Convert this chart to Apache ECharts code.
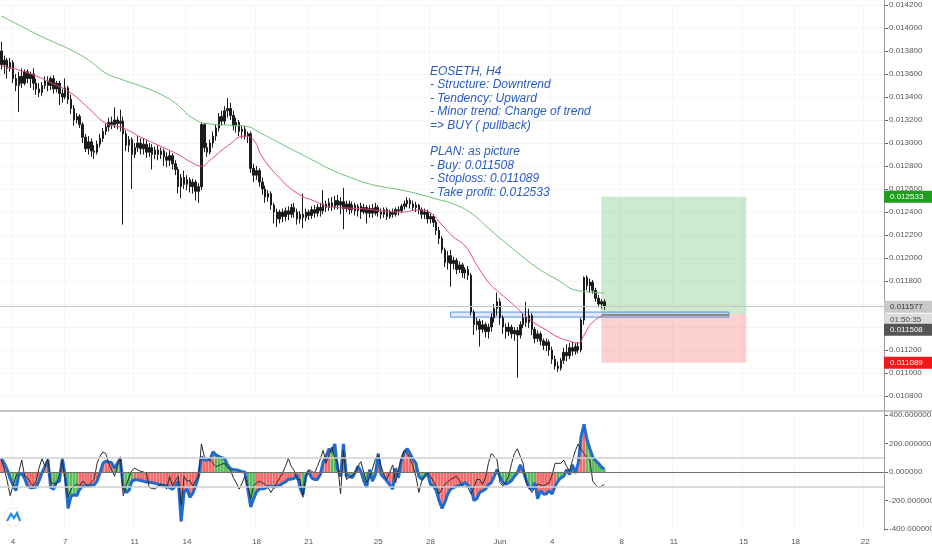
<!DOCTYPE html>
<html>
<head>
<meta charset="utf-8">
<script src="https://cdn.jsdelivr.net/npm/echarts@6/dist/echarts.min.js"></script>
<style>
html, body {margin: 0; padding: 0; background: #fff;}
#main {width: 932px; height: 550px;}
</style>
</head>
<body>
<div id="main"></div>
<script>
// prices are in units of 1e-6 (13800 = 0.013800)
const slots = 305
const tickIdx = [4, 22, 46, 64, 88, 106, 130, 148, 172, 190, 214, 232, 256, 274, 298]
const tickText = ['4', '7', '11', '14', '18', '21', '25', '28', 'Jun', '4', '8', '11', '15', '18', '22']

// [open, close, low, high]
const candles = [
    [13800,13680,13640,13880],[13680,13720,13600,13760],[13720,13650,13560,13740],[13650,13700,13620,13740],
    [13700,13560,13520,13720],[13560,13500,13450,13600],[13500,13580,13270,13620],[13580,13520,13480,13650],
    [13520,13620,13500,13640],[13620,13560,13520,13640],[13560,13600,13480,13620],[13600,13520,13460,13650],
    [13520,13470,13420,13560],[13470,13440,13400,13520],[13440,13500,13410,13530],[13500,13540,13470,13580],
    [13540,13500,13450,13580],[13500,13560,13460,13580],[13560,13470,13430,13590],[13470,13520,13440,13540],
    [13520,13430,13330,13540],[13430,13400,13350,13470],[13400,13480,13380,13560],[13480,13380,13340,13500],
    [13380,13300,13250,13420],[13300,13200,13150,13330],[13200,13230,13170,13260],[13230,13160,13130,13250],
    [13160,13050,13000,13180],[13050,12950,12920,13080],[12950,13010,12900,13060],[13010,12930,12880,13040],
    [12930,12920,12860,12980],[12920,12990,12900,13020],[12990,13040,12960,13080],[13040,13100,13010,13130],
    [13100,13140,13070,13170],[13140,13180,13100,13220],[13180,13160,13120,13230],[13160,13200,13130,13310],
    [13200,13170,13120,13230],[13170,13190,13100,13290],[13190,13080,12290,13230],[13080,12980,12930,13110],
    [12980,13030,12920,13060],[13030,12900,12600,13050],[12900,12960,12870,13000],[12960,13000,12920,13060],
    [13000,12950,12900,13040],[12950,12990,12900,13040],[12990,12920,12870,13030],[12920,12960,12880,13000],
    [12960,12900,12770,12990],[12900,12940,12860,12970],[12940,12900,12850,12980],[12900,12930,12860,12960],
    [12930,12880,12800,12950],[12880,12850,12790,12920],[12850,12890,12800,12930],[12890,12820,12770,12910],
    [12820,12770,12720,12850],[12770,12620,12560,12790],[12620,12700,12520,12730],[12700,12640,12600,12760],
    [12640,12680,12590,12720],[12680,12620,12570,12700],[12620,12660,12560,12690],[12660,12580,12500,12680],
    [12580,12620,12480,12650],[12620,13160,12590,13180],[13160,12960,12920,13170],[12960,12920,12880,13000],
    [12920,13000,12900,13030],[13000,13060,12960,13100],[13060,13130,13020,13160],[13130,13230,13100,13260],
    [13230,13190,13150,13280],[13190,13280,13160,13320],[13280,13300,13220,13390],[13300,13240,13200,13350],
    [13240,13150,13110,13280],[13150,13180,13090,13220],[13180,13100,13060,13200],[13100,13120,13040,13150],
    [13120,13060,13030,13150],[13060,13080,13000,13100],[13080,12780,12740,13100],[12780,12720,12660,12820],
    [12720,12760,12680,12800],[12760,12660,12620,12780],[12660,12600,12550,12700],[12600,12530,12480,12630],
    [12530,12560,12490,12590],[12560,12460,12420,12580],[12460,12400,12300,12480],[12400,12340,12270,12430],
    [12340,12400,12300,12420],[12400,12360,12310,12430],[12360,12410,12320,12440],[12410,12380,12330,12450],
    [12380,12440,12350,12470],[12440,12400,12350,12480],[12400,12340,12290,12430],[12340,12380,12300,12410],
    [12380,12350,12260,12560],[12350,12400,12320,12430],[12400,12370,12330,12420],[12370,12420,12340,12450],
    [12420,12390,12350,12460],[12390,12440,12360,12470],[12440,12410,12360,12480],[12410,12470,12380,12590],
    [12470,12440,12400,12500],[12440,12480,12410,12520],[12480,12450,12410,12530],[12450,12500,12420,12540],
    [12500,12460,12420,12550],[12460,12490,12380,12530],[12490,12430,12250,12610],[12430,12470,12400,12500],
    [12470,12420,12380,12500],[12420,12460,12390,12490],[12460,12410,12370,12480],[12410,12450,12360,12470],
    [12450,12400,12340,12480],[12400,12440,12380,12470],[12440,12390,12300,12460],[12390,12430,12350,12460],
    [12430,12390,12350,12470],[12390,12440,12370,12480],[12440,12400,12360,12460],[12400,12380,12340,12430],
    [12380,12420,12350,12440],[12420,12360,12330,12440],[12360,12400,12340,12420],[12400,12380,12350,12430],
    [12380,12420,12360,12440],[12420,12410,12370,12450],[12410,12450,12390,12470],[12450,12470,12420,12500],
    [12470,12500,12440,12530],[12500,12470,12430,12520],[12470,12440,12410,12500],[12440,12460,12400,12490],
    [12460,12420,12380,12470],[12420,12380,12340,12440],[12380,12400,12340,12430],[12400,12340,12300,12420],
    [12340,12360,12300,12390],[12360,12310,12270,12380],[12310,12240,12200,12330],[12240,12170,12120,12270],
    [12170,12070,12040,12190],[12070,11960,11920,12090],[11960,12020,11900,12060],[12020,11950,11750,12070],
    [11950,11980,11900,12010],[11980,11900,11860,12000],[11900,11940,11870,11970],[11940,11870,11830,11960],
    [11870,11900,11820,11920],[11900,11850,11810,11930],[11850,11530,11500,11870],[11530,11420,11330,11550],
    [11420,11450,11370,11480],[11450,11380,11230,11470],[11380,11420,11350,11460],[11420,11360,11310,11440],
    [11360,11400,11300,11430],[11400,11480,11360,11520],[11480,11560,11440,11600],[11560,11620,11500,11700],
    [11620,11480,11420,11650],[11480,11400,11340,11500],[11400,11360,11300,11430],[11360,11400,11320,11440],
    [11400,11340,11300,11420],[11340,11370,11280,11400],[11370,11330,10960,11400],[11330,11420,11300,11450],
    [11420,11480,11390,11520],[11480,11440,11400,11620],[11440,11500,11390,11560],[11500,11380,11330,11520],
    [11380,11300,11260,11400],[11300,11340,11270,11370],[11340,11280,11240,11360],[11280,11240,11200,11300],
    [11240,11270,11190,11300],[11270,11200,11150,11290],[11200,11120,11080,11230],[11120,11060,11030,11150],
    [11060,11040,11010,11100],[11040,11110,11020,11130],[11110,11180,11080,11220],[11180,11150,11100,11250],
    [11150,11220,11120,11260],[11220,11190,11150,11270],[11190,11230,11160,11260],[11230,11200,11170,11270],
    [11200,11460,11180,11480],[11460,11830,11420,11840],[11830,11760,11720,11850],[11760,11790,11700,11820],
    [11790,11720,11690,11810],[11720,11650,11620,11740],[11650,11600,11570,11680],[11600,11620,11560,11640],
    [11620,11577,11550,11640]
]

// moving averages: [candle index, price]
const slowMA = [
    [0,14104],[6,14026],[12,13948],[18,13878],[24,13809],[30,13722],[36,13608],[42,13548],[48,13495],
    [54,13434],[60,13347],[66,13217],[72,13165],[78,13156],[84,13147],[90,13078],[96,12999],[102,12921],
    [108,12843],[114,12765],[120,12704],[126,12651],[132,12617],[138,12591],[144,12556],[150,12513],
    [156,12469],[162,12391],[168,12260],[174,12130],[180,12008],[186,11895],[192,11808],[198,11721],
    [204,11703],[208,11694]
]
const fastMA = [
    [0,13669],[6,13635],[12,13582],[18,13513],[24,13434],[30,13304],[36,13173],[42,13130],[48,13052],
    [54,12982],[60,12913],[66,12825],[69,12799],[72,12852],[78,12974],[84,13060],[87,13026],[90,12878],
    [96,12695],[102,12564],[108,12495],[114,12443],[120,12434],[126,12425],[132,12408],[138,12399],
    [144,12417],[148,12391],[152,12287],[156,12182],[160,12104],[164,11939],[168,11790],[172,11694],
    [176,11608],[180,11513],[184,11434],[188,11373],[192,11312],[196,11277],[199,11260],[201,11330],
    [204,11443],[208,11503]
]

// oscillator panel
const oscBlue = [
    95,60,16,-45,-90,-130,-20,-10,-45,-100,
    -110,-109,-105,-60,-5,38,84,-110,-120,-70,
    -65,95,-30,-256,-170,-160,-165,-120,-100,-98,
    -98,-95,-90,-64,-7,61,75,70,65,27,
    61,95,-110,-143,-130,-64,-55,-55,-60,-65,
    -70,-72,-75,-80,-85,-90,-98,-95,-110,-120,
    -100,-64,-347,-143,-120,-177,-150,-98,-30,107,
    84,84,90,141,120,110,100,95,50,25,
    16,16,10,2,0,-120,-245,-188,-140,-120,
    -118,-115,-100,-100,-105,-100,-95,-80,-70,-50,
    -50,-45,-18,-110,-160,-30,5,-41,-52,-52,
    -18,70,110,163,141,197,16,-30,197,-30,
    -25,-40,-7,40,5,-60,-109,16,-64,-18,
    129,-18,-41,-64,-90,-120,27,-41,84,141,
    163,129,90,61,-30,-52,-30,-7,-86,-98,
    -130,-200,-256,-211,-154,-120,-109,-100,-95,-86,
    -75,-95,-109,-200,-188,-143,-132,-120,-90,-75,
    -30,16,-30,-75,-86,-75,-60,-30,-7,50,
    5,-52,-109,-120,-75,-188,-132,-154,-154,-132,
    -154,-100,-64,-41,-30,16,-18,50,-7,60,
    250,334,230,163,107,80,61,35,20
]
const oscBlack = [
    84,20,-64,-166,-98,-30,0,84,-30,-40,
    -75,-98,-60,30,95,38,95,-75,-80,-86,
    -20,84,-60,-177,-120,-100,-86,-98,-64,-80,
    -98,-70,-52,61,110,141,129,61,16,-30,
    40,107,-166,-98,-40,10,27,15,5,0,
    -7,-109,-115,-120,-98,-90,-86,-120,-30,-98,
    -60,-30,-234,-30,-64,-60,-98,-60,-30,197,
    107,95,84,60,38,45,55,61,30,16,
    -40,-75,-120,-80,-30,-100,-188,-98,-75,-64,
    -75,-86,-110,-143,-110,-75,-40,-7,40,95,
    38,10,-52,-52,-177,-30,16,5,-7,38,
    90,152,61,120,175,100,61,-154,152,-52,
    -40,-30,-7,40,73,0,-75,-41,20,90,
    118,40,-20,-52,0,50,-75,20,100,152,
    130,95,40,-30,-143,-64,-30,-7,-30,-64,
    -100,-154,-120,-86,-70,-52,-40,-30,-60,-98,
    -100,-109,-154,-110,-52,-52,-86,-40,60,129,
    110,84,-75,-98,-70,-30,60,130,163,110,
    61,-75,-110,-143,-110,-86,-90,-98,-86,-75,
    -20,61,61,61,84,40,5,80,150,197,
    160,129,100,84,-64,-90,-109,-100,-86
]
// histogram colour runs: [first candle index, 'r' | 'g']
const histRuns = [
    [0,'r'],[2,'g'],[8,'r'],[17,'g'],[21,'r'],[22,'g'],[27,'r'],[39,'g'],[46,'r'],[74,'g'],[88,'r'],
    [104,'g'],[106,'r'],[114,'g'],[117,'r'],[119,'g'],[122,'r'],[125,'g'],[129,'r'],[136,'g'],[137,'r'],
    [143,'g'],[148,'r'],[172,'g'],[179,'r'],[181,'g'],[185,'r'],[192,'g'],[199,'r'],[202,'g']
]

const entry = 11508, stopLoss = 11089, takeProfit = 12533, lastPrice = 11577
const toolFrom = 207, toolTo = 257, bandFrom = 155, bandTo = 251

const note = [
    'EOSETH, H4',
    '- Structure: Downtrend',
    '- Tendency: Upward',
    '- Minor trend: Change of trend',
    '=> BUY ( pullback)',
    '',
    'PLAN: as picture',
    '- Buy: 0.011508',
    '- Stoploss: 0.011089',
    '- Take profit: 0.012533'
]

const categories = []
for (let i = 0; i < slots; i++) categories.push(String(i))

const runColor = i => {
    let c = 'r'
    histRuns.forEach(r => { if (r[0] <= i) c = r[1] })
    return c === 'r' ? '#f46a6a' : '#5cbc5c'
}

const fmtPrice = v => (v / 1e6).toFixed(6)
const labelFont = {color: '#555', fontSize: 8, fontFamily: 'Liberation Sans'}

let myChart = echarts.init(document.getElementById('main'))

let option = {
    backgroundColor: '#fff',
    animation: false,
    grid: [
        {left: 0, right: 48, top: 5, height: 391, containLabel: false, outerBoundsMode: 'none'},
        {left: 0, right: 48, top: 415, height: 114, containLabel: false, outerBoundsMode: 'none'}
    ],
    xAxis: [
        {
            type: 'category', gridIndex: 0, data: categories, boundaryGap: true,
            axisLine: {show: false}, axisTick: {show: false}, axisLabel: {show: false},
            splitLine: {show: true, interval: (i) => tickIdx.includes(i), lineStyle: {color: '#f6f6f6'}}
        },
        {
            type: 'category', gridIndex: 1, data: categories, boundaryGap: true,
            axisLine: {show: true, lineStyle: {color: '#9a9a9a'}},
            axisTick: {show: false},
            axisLabel: {
                ...labelFont, margin: 9,
                interval: (i) => tickIdx.includes(i),
                formatter: (v, i) => tickText[tickIdx.indexOf(i)]
            },
            splitLine: {show: true, interval: (i) => tickIdx.includes(i), lineStyle: {color: '#f6f6f6'}}
        }
    ],
    yAxis: [
        {
            type: 'value', gridIndex: 0, position: 'right', min: 10800, max: 14200, interval: 200,
            axisLine: {show: false},
            axisTick: {show: true, length: 4, lineStyle: {color: '#666'}},
            axisLabel: {...labelFont, margin: 5, formatter: fmtPrice},
            splitLine: {lineStyle: {color: '#f6f6f6'}}
        },
        {
            type: 'value', gridIndex: 1, position: 'right', min: -400, max: 400, interval: 200,
            axisLine: {show: false},
            axisTick: {show: true, length: 4, lineStyle: {color: '#666'}},
            axisLabel: {...labelFont, margin: 5, formatter: v => v.toFixed(6)},
            splitLine: {show: false}
        }
    ],
    series: [
        {
            type: 'candlestick', xAxisIndex: 0, yAxisIndex: 0,
            data: candles, barWidth: 2,
            itemStyle: {color: '#1c1c1c', color0: '#1c1c1c', borderColor: '#1c1c1c', borderColor0: '#1c1c1c', borderWidth: 1},
            markArea: {
                silent: true,
                data: [
                    [{xAxis: toolFrom, yAxis: entry, itemStyle: {color: 'rgba(76,175,80,0.28)'}}, {xAxis: toolTo, yAxis: takeProfit}],
                    [{xAxis: toolFrom, yAxis: stopLoss, itemStyle: {color: 'rgba(244,67,54,0.25)'}}, {xAxis: toolTo, yAxis: entry}],
                    [{xAxis: bandFrom, yAxis: 11486, itemStyle: {color: 'rgba(130,170,235,0.25)', borderColor: '#5a8ee0', borderWidth: 1}}, {xAxis: bandTo, yAxis: 11530}]
                ]
            },
            markLine: {
                silent: true, symbol: 'none', label: {show: false},
                data: [
                    {yAxis: lastPrice, lineStyle: {color: '#c4c4c4', width: 1, type: 'solid'}},
                    [{coord: [toolFrom, entry], lineStyle: {color: '#8c8c8c', width: 2, type: 'solid'}}, {coord: [bandTo, entry]}]
                ]
            }
        },
        {
            type: 'line', xAxisIndex: 0, yAxisIndex: 0, data: slowMA, showSymbol: false,
            connectNulls: true, smooth: true, lineStyle: {color: '#6cbf70', width: 1}
        },
        {
            type: 'line', xAxisIndex: 0, yAxisIndex: 0, data: fastMA, showSymbol: false,
            connectNulls: true, smooth: true, lineStyle: {color: '#e6486a', width: 1}
        },
        {
            type: 'bar', xAxisIndex: 1, yAxisIndex: 1, barCategoryGap: '8%',
            data: oscBlue.map((v, i) => ({value: v, itemStyle: {color: runColor(i)}})),
            markLine: {
                silent: true, symbol: 'none', label: {show: false},
                data: [
                    {yAxis: 100, lineStyle: {color: '#cfcfcf', width: 1.5, type: 'solid'}},
                    {yAxis: -100, lineStyle: {color: '#cfcfcf', width: 1.5, type: 'solid'}},
                    {yAxis: 0, lineStyle: {color: '#6e6e6e', width: 1, type: 'solid'}}
                ]
            }
        },
        {
            type: 'line', xAxisIndex: 1, yAxisIndex: 1, data: oscBlue, showSymbol: false,
            lineStyle: {color: '#1f6ccc', width: 3}
        },
        {
            type: 'line', xAxisIndex: 1, yAxisIndex: 1, data: oscBlack, showSymbol: false,
            lineStyle: {color: '#2a2a2a', width: 1}
        }
    ]
}

myChart.setOption(option)

// price badges on the right scale
const priceY = p => myChart.convertToPixel({yAxisIndex: 0}, p)
const badge = (y, text, bg, fg) => ({
    type: 'group', x: 884, y: y - 6, z: 100,
    children: [
        {type: 'rect', z: 100, shape: {x: 0, y: 0, width: 48, height: 12}, style: {fill: bg}},
        {type: 'text', z: 101, x: 6, y: 2, style: {text: text, fill: fg, fontSize: 8, fontFamily: 'Liberation Sans'}}
    ]
})

const lastY = priceY(lastPrice)
myChart.setOption({
    graphic: [
        {type: 'rect', z: 100, shape: {x: 0, y: 410, width: 932, height: 2}, style: {fill: '#c6c6c6'}, silent: true},
        {type: 'line', z: 100, shape: {x1: 884.5, y1: 0, x2: 884.5, y2: 531}, style: {stroke: '#a0a0a0', lineWidth: 1}},
        {
            type: 'text', x: 430, y: 65, z: 100,
            style: {
                text: note.join('\n'), fill: '#2a5cbf', fontSize: 12, lineHeight: 13.4,
                fontStyle: 'italic', fontFamily: 'Liberation Sans'
            }
        },
        badge(priceY(takeProfit), fmtPrice(takeProfit), '#1f9e1f', '#fff'),
        badge(lastY, fmtPrice(lastPrice), '#c9c9c9', '#333'),
        badge(lastY + 13, '01:50:35', '#dcdcdc', '#444'),
        badge(lastY + 23, fmtPrice(entry), '#555', '#fff'),
        badge(priceY(stopLoss), fmtPrice(stopLoss), '#f21818', '#fff'),
        {type: 'circle', z: 100, shape: {cx: 13, cy: 517, r: 9}, style: {fill: '#fff', stroke: '#ececec', lineWidth: 1}},
        {type: 'polyline', z: 101, shape: {points: [[7, 521], [11, 514], [14, 518], [17, 513], [20, 521]]}, style: {stroke: '#2b8ee6', lineWidth: 2.2, fill: 'none'}}
    ]
})
</script>
</body>
</html>
